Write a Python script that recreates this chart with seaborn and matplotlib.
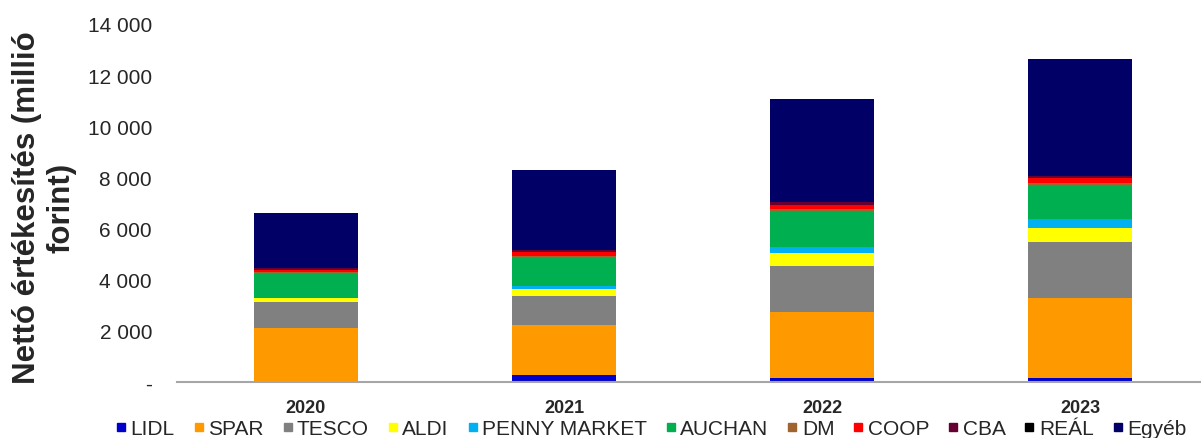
import pandas as pd
import numpy as np
import matplotlib
matplotlib.use("Agg")
import matplotlib.pyplot as plt
from matplotlib.lines import Line2D
import seaborn as sns

# ============================================
# Data (millió forint)
# ============================================
years = ["2020", "2021", "2022", "2023"]
chains = ["LIDL", "SPAR", "TESCO", "ALDI", "PENNY MARKET", "AUCHAN",
          "DM", "COOP", "CBA", "REÁL", "Egyéb"]
lidl = [0, 260, 170, 160]
spar = [2100, 1950, 2555, 3125]
tesco = [1030, 1170, 1820, 2175]
aldi = [145, 260, 508, 560]
penny = [0, 130, 223, 340]
auchan = [950, 1066, 1379, 1313]
dm = [78, 78, 105, 105]
coop = [78, 156, 168, 184]
cba = [65, 78, 94, 78]
real = [0, 0, 0, 0]
egyeb = [2175, 3125, 4035, 4583]
chain_colors = ["#0000CC", "#FF9900", "#808080", "#FFFF00", "#00B0F0", "#00B050",
                "#A0652F", "#FF0000", "#660033", "#000000", "#000066"]
ytick_values = [0, 2000, 4000, 6000, 8000, 10000, 12000, 14000]
ytick_labels = ["-", "2 000", "4 000", "6 000", "8 000", "10 000", "12 000", "14 000"]

df = pd.DataFrame({"year": years, "LIDL": lidl, "SPAR": spar, "TESCO": tesco,
                   "ALDI": aldi, "PENNY MARKET": penny, "AUCHAN": auchan,
                   "DM": dm, "COOP": coop, "CBA": cba, "REÁL": real, "Egyéb": egyeb})
cum = df[chains].cumsum(axis=1)

# ============================================
# Plot
# ============================================
sns.set_style("white")
plt.rcParams["font.family"] = ["Liberation Sans", "DejaVu Sans"]

fig = plt.figure(figsize=(12.01, 4.39), dpi=100)
ax = fig.add_axes([177 / 1201, 56 / 439, 1032 / 1201, 358 / 439])

# stacked bars: draw cumulative totals from the top series down
for name, color in reversed(list(zip(chains, chain_colors))):
    sns.barplot(x=df["year"], y=cum[name], color=color, saturation=1,
                width=0.4, ax=ax, linewidth=0)

ax.set_xlim(-0.5, 3.5)
ax.set_ylim(0, 14000)
ax.set_yticks(ytick_values)
ax.set_yticklabels(ytick_labels, fontsize=15)
ax.tick_params(axis="y", length=0, pad=18)
ax.set_xticks(range(len(years)))
ax.set_xticklabels(years, fontsize=13, fontweight="bold")
ax.tick_params(axis="x", length=0, pad=12)
ax.set_xticks(np.arange(-0.5, 4, 1), minor=True)
ax.tick_params(axis="x", which="minor", length=6, width=1.5, color="#A6A6A6")
ax.set_xlabel("")

for side in ["top", "right", "left"]:
    ax.spines[side].set_visible(False)
ax.spines["bottom"].set_color("#A6A6A6")
ax.spines["bottom"].set_linewidth(1.5)

ax.set_ylabel("Nettó értékesítés (millió\nforint)", fontsize=22.5,
              fontweight="bold", linespacing=1.2)
ax.yaxis.set_label_coords(-0.097, 0.49)

handles = [Line2D([], [], marker="s", linestyle="", color=c, markersize=6)
           for c in chain_colors]
fig.legend(handles, chains, loc="center left", bbox_to_anchor=(116 / 1201, 9 / 439),
           ncol=len(chains), frameon=False, fontsize=15,
           handlelength=0.5, handletextpad=0.2, columnspacing=0.9,
           borderaxespad=0, borderpad=0)

plt.savefig("out.png", dpi=100)
plt.close()
